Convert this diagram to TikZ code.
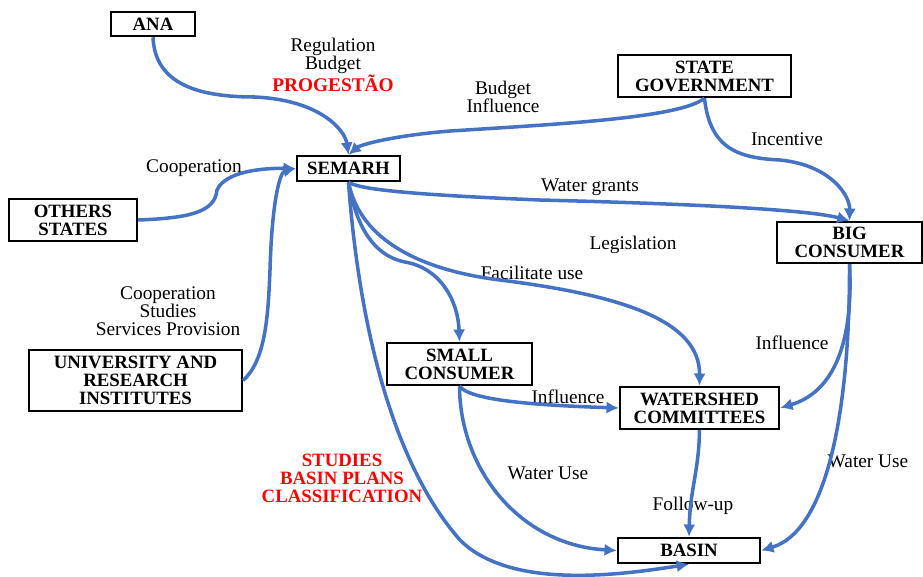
\documentclass[tikz,border=0pt]{standalone}
\usepackage{fontspec}
\setmainfont{Liberation Serif}
\usetikzlibrary{arrows.meta}
\definecolor{flowblue}{RGB}{68,114,196}
\tikzset{>={Latex[length=7pt,width=7pt]}}

\begin{document}
\begin{tikzpicture}[x=0.02cm,y=-0.02cm,
  box/.style={draw,line width=1.4pt,inner sep=1pt,align=center,
    font=\fontsize{10.7}{10.2}\selectfont\bfseries},
  lbl/.style={align=center,inner sep=0pt,font=\fontsize{11}{10.2}\selectfont},
  redlbl/.style={lbl,text=red,font=\fontsize{10.7}{10.2}\selectfont\bfseries},
  flow/.style={->,draw=flowblue,line width=2pt}]
\useasboundingbox (0,0) rectangle (923,576);

\node[box,minimum width=1.68cm,minimum height=0.48cm] (ana) at (153,24) {ANA};
\node[box,minimum width=2.06cm,minimum height=0.5cm] (semarh) at (348.5,168.5) {SEMARH};
\node[box,minimum width=2.56cm,minimum height=0.84cm] (others) at (73,220) {OTHERS\\STATES};
\node[box,minimum width=3.46cm,minimum height=0.84cm] (stgov) at (704.5,76) {STATE\\GOVERNMENT};
\node[box,minimum width=2.9cm,minimum height=0.82cm] (bigc) at (849.5,242.5) {BIG\\CONSUMER};
\node[box,minimum width=4.26cm,minimum height=1.22cm] (univ) at (135.5,380.5) {UNIVERSITY AND\\RESEARCH\\INSTITUTES};
\node[box,minimum width=2.9cm,minimum height=0.84cm] (small) at (459.5,364) {SMALL\\CONSUMER};
\node[box,minimum width=3.18cm,minimum height=0.84cm] (wsc) at (699.5,408) {WATERSHED\\COMMITTEES};
\node[box,minimum width=2.84cm,minimum height=0.5cm] (basin) at (689,550.5) {BASIN};

\node[lbl] (regl) at (333,65) {Regulation\\Budget\\\textcolor{red}{\bfseries PROGESTÃO}};
\node[lbl] (budl) at (503,97) {Budget\\Influence};
\node[lbl] (coopl) at (194,168) {Cooperation};
\node[lbl] (incl) at (787,139) {Incentive};
\node[lbl] (grantl) at (590,187) {Water grants};
\node[lbl] (legl) at (633,245) {Legislation};
\node[lbl] (facl) at (532,273) {Facilitate use};
\node[lbl] (unil) at (168,311) {Cooperation\\Studies\\Services Provision};
\node[redlbl] (studl) at (342,478) {STUDIES\\BASIN PLANS\\CLASSIFICATION};
\node[lbl] (infsl) at (568,397) {Influence};
\node[lbl] (infbl) at (792,343) {Influence};
\node[lbl] (usesl) at (548,473) {Water Use};
\node[lbl] (usebl) at (868,461) {Water Use};
\node[lbl] (folll) at (693,506) {Follow-up};

\draw[flow] (ana.south) .. controls (155,85) and (200,97) .. (255,97)
  .. controls (320,100) and (345,130) .. (semarh.north);
\draw[flow] (stgov.south) .. controls (680,118) and (560,124) .. (450,131)
  .. controls (390,136) and (360,145) .. (semarh.north);
\draw[flow] (stgov.south) .. controls (710,150) and (740,158) .. (780,160)
  .. controls (830,165) and (850,195) .. (bigc.north);
\draw[flow] (others.east) .. controls (190,218) and (215,212) .. (217,190)
  .. controls (225,172) and (260,168) .. (semarh.west);
\draw[flow] (univ.east) .. controls (265,360) and (268,320) .. (270,270)
  .. controls (272,200) and (280,172) .. (semarh.west);
\draw[flow] (semarh.south) .. controls (360,190) and (420,195) .. (540,200)
  .. controls (700,204) and (810,210) .. (bigc.north);
\draw[flow] (semarh.south) .. controls (355,220) and (370,255) .. (405,262)
  .. controls (440,268) and (458,300) .. (small.north);
\draw[flow] (semarh.south) .. controls (360,240) and (420,270) .. (500,280)
  .. controls (620,295) and (700,320) .. (wsc.north);
\draw[flow] (semarh.south) .. controls (357,300) and (385,455) .. (460,540)
  .. controls (510,590) and (620,575) .. (basin.south);
\draw[flow] (small.south) .. controls (470,400) and (530,405) .. (wsc.west);
\draw[flow] (small.south) .. controls (460,470) and (520,545) .. (basin.west);
\draw[flow] (bigc.south) .. controls (853,330) and (840,390) .. (wsc.east);
\draw[flow] (bigc.south) .. controls (850,400) and (830,530) .. (basin.east);
\draw[flow] (wsc.south) .. controls (699,470) and (690,490) .. (basin.north);
\end{tikzpicture}
\end{document}
